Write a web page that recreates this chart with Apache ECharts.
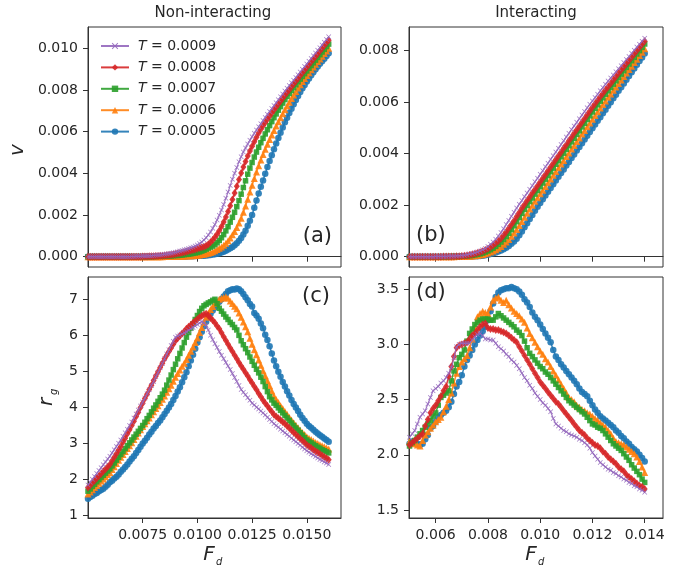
<!DOCTYPE html>
<html><head><meta charset="utf-8">
<script src="https://cdn.jsdelivr.net/npm/echarts/dist/echarts.min.js"></script>
<style>html,body{margin:0;padding:0;background:#fff}#c{width:691px;height:572px}</style>
</head><body><div id="c"></div>
<script>
// ---------- DATA ----------
const T_LABELS = ['T = 0.0009','T = 0.0008','T = 0.0007','T = 0.0006','T = 0.0005'];
const X_TICKS_NONINT = [0.0075,0.0100,0.0125,0.0150];
const X_TICKS_INT = [0.006,0.008,0.010,0.012,0.014];
const Y_TICKS_V_NONINT = [0,0.002,0.004,0.006,0.008,0.010];
const Y_TICKS_V_INT = [0,0.002,0.004,0.006,0.008];
const Y_TICKS_R_NONINT = [1,2,3,4,5,6,7];
const Y_TICKS_R_INT = [1.5,2.0,2.5,3.0,3.5];

const F_NONINT = [
0.0050,0.0051,0.0052,0.0053,0.0054,0.0055,0.0056,0.0057,0.0058,0.0059,
0.0060,0.0061,0.0062,0.0063,0.0064,0.0065,0.0066,0.0067,0.0068,0.0069,
0.0070,0.0071,0.0072,0.0073,0.0074,0.0075,0.0076,0.0077,0.0078,0.0079,
0.0080,0.0081,0.0082,0.0083,0.0084,0.0085,0.0086,0.0087,0.0088,0.0089,
0.0090,0.0091,0.0092,0.0093,0.0094,0.0095,0.0096,0.0097,0.0098,0.0099,
0.0100,0.0101,0.0102,0.0103,0.0104,0.0105,0.0106,0.0107,0.0108,0.0109,
0.0110,0.0111,0.0112,0.0113,0.0114,0.0115,0.0116,0.0117,0.0118,0.0119,
0.0120,0.0121,0.0122,0.0123,0.0124,0.0125,0.0126,0.0127,0.0128,0.0129,
0.0130,0.0131,0.0132,0.0133,0.0134,0.0135,0.0136,0.0137,0.0138,0.0139,
0.0140,0.0141,0.0142,0.0143,0.0144,0.0145,0.0146,0.0147,0.0148,0.0149,
0.0150,0.0151,0.0152,0.0153,0.0154,0.0155,0.0156,0.0157,0.0158,0.0159,0.0160];

const F_INT = [
0.0050,0.0051,0.0052,0.0053,0.0054,0.0055,0.0056,0.0057,0.0058,0.0059,
0.0060,0.0061,0.0062,0.0063,0.0064,0.0065,0.0066,0.0067,0.0068,0.0069,
0.0070,0.0071,0.0072,0.0073,0.0074,0.0075,0.0076,0.0077,0.0078,0.0079,
0.0080,0.0081,0.0082,0.0083,0.0084,0.0085,0.0086,0.0087,0.0088,0.0089,
0.0090,0.0091,0.0092,0.0093,0.0094,0.0095,0.0096,0.0097,0.0098,0.0099,
0.0100,0.0101,0.0102,0.0103,0.0104,0.0105,0.0106,0.0107,0.0108,0.0109,
0.0110,0.0111,0.0112,0.0113,0.0114,0.0115,0.0116,0.0117,0.0118,0.0119,
0.0120,0.0121,0.0122,0.0123,0.0124,0.0125,0.0126,0.0127,0.0128,0.0129,
0.0130,0.0131,0.0132,0.0133,0.0134,0.0135,0.0136,0.0137,0.0138,0.0139,0.0140];

// (a) v, non-interacting
const V_NONINT_T9 = [
0,0,0,0,0,0,0,0,0,0,
0,0,0,0,0,0,0,0,0,0,
0.00001,0.00001,0.00002,0.00002,0.00002,0.00003,0.00003,0.00004,0.00004,0.00005,
0.00006,0.00007,0.00008,0.00009,0.00010,0.00012,0.00013,0.00015,0.00017,0.00019,
0.00021,0.00024,0.00027,0.00030,0.00033,0.00036,0.00039,0.00043,0.00047,0.00051,
0.00056,0.00063,0.00071,0.00080,0.00091,0.00104,0.00119,0.00136,0.00155,0.00176,
0.00199,0.00224,0.00251,0.00280,0.00310,0.00341,0.00372,0.00400,0.00428,0.00455,
0.00480,0.00502,0.00522,0.00541,0.00559,0.00576,0.00592,0.00608,0.00623,0.00638,
0.00653,0.00668,0.00683,0.00697,0.00711,0.00725,0.00739,0.00753,0.00767,0.00781,
0.00795,0.00808,0.00821,0.00834,0.00847,0.00860,0.00873,0.00886,0.00899,0.00912,
0.00925,0.00938,0.00951,0.00964,0.00977,0.00990,0.01003,0.01016,0.01029,0.01042,0.01055];
const V_NONINT_T8 = [
0,0,0,0,0,0,0,0,0,0,
0,0,0,0,0,0,0,0,0,0,
0,0,0,0,0,0.00001,0.00001,0.00001,0.00002,0.00002,
0.00002,0.00003,0.00003,0.00004,0.00005,0.00006,0.00007,0.00008,0.00009,0.00011,
0.00013,0.00015,0.00017,0.00019,0.00021,0.00024,0.00027,0.00030,0.00032,0.00035,
0.00038,0.00042,0.00045,0.00048,0.00053,0.00060,0.00069,0.00080,0.00093,0.00108,
0.00125,0.00145,0.00167,0.00191,0.00217,0.00245,0.00275,0.00306,0.00338,0.00370,
0.00401,0.00430,0.00457,0.00483,0.00507,0.00530,0.00552,0.00573,0.00594,0.00611,
0.00628,0.00644,0.00659,0.00674,0.00689,0.00704,0.00718,0.00732,0.00746,0.00760,
0.00774,0.00788,0.00801,0.00815,0.00828,0.00842,0.00855,0.00869,0.00882,0.00896,
0.00909,0.00922,0.00935,0.00948,0.00961,0.00974,0.00987,0.01000,0.01013,0.01026,0.01039];
const V_NONINT_T7 = [
0,0,0,0,0,0,0,0,0,0,
0,0,0,0,0,0,0,0,0,0,
0,0,0,0,0,0,0,0,0,0,
0.00001,0.00001,0.00002,0.00002,0.00002,0.00003,0.00003,0.00004,0.00004,0.00005,
0.00006,0.00006,0.00007,0.00008,0.00010,0.00011,0.00012,0.00014,0.00016,0.00018,
0.00020,0.00023,0.00027,0.00031,0.00036,0.00041,0.00046,0.00051,0.00058,0.00067,
0.00078,0.00091,0.00106,0.00124,0.00144,0.00166,0.00189,0.00213,0.00240,0.00269,
0.00300,0.00332,0.00364,0.00396,0.00425,0.00452,0.00478,0.00502,0.00525,0.00547,
0.00568,0.00589,0.00609,0.00629,0.00648,0.00667,0.00685,0.00703,0.00720,0.00737,
0.00754,0.00769,0.00783,0.00797,0.00811,0.00825,0.00839,0.00852,0.00865,0.00878,
0.00891,0.00904,0.00917,0.00930,0.00943,0.00956,0.00969,0.00982,0.00995,0.01008,0.01020];
const V_NONINT_T6 = [
0,0,0,0,0,0,0,0,0,0,
0,0,0,0,0,0,0,0,0,0,
0,0,0,0,0,0,0,0,0,0,
0,0,0,0,0,0.00001,0.00001,0.00001,0.00001,0.00001,
0.00001,0.00002,0.00002,0.00002,0.00003,0.00003,0.00004,0.00004,0.00005,0.00006,
0.00007,0.00008,0.00010,0.00012,0.00014,0.00017,0.00020,0.00024,0.00029,0.00035,
0.00041,0.00047,0.00055,0.00065,0.00077,0.00090,0.00105,0.00121,0.00140,0.00162,
0.00185,0.00213,0.00243,0.00276,0.00310,0.00343,0.00375,0.00406,0.00436,0.00464,
0.00490,0.00515,0.00539,0.00562,0.00584,0.00606,0.00627,0.00647,0.00667,0.00686,
0.00705,0.00723,0.00741,0.00759,0.00776,0.00793,0.00809,0.00825,0.00840,0.00855,
0.00869,0.00883,0.00897,0.00910,0.00923,0.00936,0.00949,0.00962,0.00975,0.00987,0.01000];
const V_NONINT_T5 = [
0,0,0,0,0,0,0,0,0,0,
0,0,0,0,0,0,0,0,0,0,
0,0,0,0,0,0,0,0,0,0,
0,0,0,0,0,0,0,0,0,0,
0,0,0.00001,0.00001,0.00001,0.00001,0.00002,0.00002,0.00002,0.00003,
0.00003,0.00004,0.00004,0.00005,0.00006,0.00007,0.00008,0.00010,0.00012,0.00014,
0.00016,0.00020,0.00024,0.00028,0.00034,0.00040,0.00047,0.00055,0.00065,0.00077,
0.00090,0.00107,0.00125,0.00148,0.00173,0.00200,0.00235,0.00270,0.00303,0.00335,
0.00365,0.00398,0.00430,0.00459,0.00487,0.00515,0.00543,0.00569,0.00595,0.00620,
0.00645,0.00667,0.00689,0.00710,0.00731,0.00752,0.00771,0.00790,0.00808,0.00824,
0.00840,0.00855,0.00870,0.00885,0.00899,0.00913,0.00926,0.00938,0.00950,0.00963,0.00976];

// (b) v, interacting
const V_INT_T9 = [
0,0,0,0,0,0,0,0,0,0,
0.00001,0.00001,0.00001,0.00001,0.00001,0.00002,0.00002,0.00002,0.00003,0.00004,
0.00005,0.00006,0.00008,0.00010,0.00012,0.00015,0.00018,0.00022,0.00027,0.00032,
0.00040,0.00048,0.00057,0.00068,0.00080,0.00094,0.00109,0.00125,0.00141,0.00157,
0.00173,0.00189,0.00204,0.00218,0.00233,0.00247,0.00262,0.00276,0.00291,0.00305,
0.00320,0.00334,0.00349,0.00363,0.00378,0.00392,0.00407,0.00421,0.00436,0.00450,
0.00465,0.00479,0.00494,0.00508,0.00522,0.00536,0.00550,0.00564,0.00578,0.00592,
0.00605,0.00618,0.00631,0.00644,0.00657,0.00670,0.00682,0.00694,0.00706,0.00718,
0.00730,0.00742,0.00754,0.00766,0.00777,0.00790,0.00802,0.00814,0.00825,0.00837,0.00848];
const V_INT_T8 = [
0,0,0,0,0,0,0,0,0,0,
0,0,0,0.00001,0.00001,0.00001,0.00001,0.00001,0.00002,0.00002,
0.00003,0.00004,0.00005,0.00007,0.00009,0.00011,0.00014,0.00017,0.00021,0.00026,
0.00031,0.00037,0.00044,0.00052,0.00061,0.00071,0.00083,0.00096,0.00110,0.00125,
0.00140,0.00156,0.00172,0.00188,0.00203,0.00218,0.00232,0.00247,0.00261,0.00276,
0.00290,0.00305,0.00319,0.00334,0.00348,0.00363,0.00377,0.00392,0.00406,0.00421,
0.00435,0.00450,0.00464,0.00479,0.00493,0.00508,0.00522,0.00537,0.00551,0.00566,
0.00580,0.00594,0.00608,0.00621,0.00634,0.00647,0.00660,0.00673,0.00686,0.00699,
0.00712,0.00725,0.00737,0.00750,0.00762,0.00775,0.00787,0.00800,0.00812,0.00825,0.00837];
const V_INT_T7 = [
0,0,0,0,0,0,0,0,0,0,
0,0,0,0,0,0,0.00001,0.00001,0.00001,0.00001,
0.00002,0.00002,0.00003,0.00004,0.00005,0.00007,0.00009,0.00011,0.00014,0.00018,
0.00022,0.00027,0.00033,0.00040,0.00048,0.00057,0.00067,0.00078,0.00091,0.00105,
0.00120,0.00136,0.00152,0.00168,0.00184,0.00199,0.00214,0.00228,0.00243,0.00257,
0.00272,0.00286,0.00301,0.00315,0.00330,0.00344,0.00359,0.00373,0.00388,0.00402,
0.00417,0.00431,0.00446,0.00460,0.00475,0.00489,0.00504,0.00518,0.00533,0.00547,
0.00562,0.00576,0.00590,0.00604,0.00617,0.00631,0.00644,0.00657,0.00670,0.00683,
0.00696,0.00709,0.00722,0.00735,0.00748,0.00761,0.00774,0.00787,0.00800,0.00813,0.00826];
const V_INT_T6 = [
0,0,0,0,0,0,0,0,0,0,
0,0,0,0,0,0,0,0,0.00001,0.00001,
0.00001,0.00001,0.00002,0.00002,0.00003,0.00004,0.00005,0.00007,0.00009,0.00011,
0.00014,0.00018,0.00022,0.00027,0.00033,0.00040,0.00048,0.00057,0.00067,0.00079,
0.00092,0.00106,0.00121,0.00137,0.00153,0.00169,0.00185,0.00200,0.00215,0.00229,
0.00244,0.00258,0.00273,0.00287,0.00302,0.00316,0.00331,0.00345,0.00360,0.00374,
0.00389,0.00403,0.00418,0.00432,0.00447,0.00461,0.00476,0.00490,0.00505,0.00519,
0.00534,0.00548,0.00563,0.00577,0.00591,0.00605,0.00619,0.00632,0.00646,0.00659,
0.00673,0.00686,0.00700,0.00713,0.00727,0.00740,0.00754,0.00767,0.00781,0.00794,0.00808];
const V_INT_T5 = [
0,0,0,0,0,0,0,0,0,0,
0,0,0,0,0,0,0,0,0,0,
0.00001,0.00001,0.00001,0.00001,0.00001,0.00002,0.00002,0.00003,0.00004,0.00006,
0.00008,0.00010,0.00013,0.00016,0.00020,0.00024,0.00029,0.00035,0.00042,0.00050,
0.00059,0.00070,0.00083,0.00098,0.00114,0.00130,0.00146,0.00162,0.00178,0.00194,
0.00209,0.00223,0.00238,0.00252,0.00267,0.00281,0.00296,0.00310,0.00325,0.00339,
0.00354,0.00368,0.00383,0.00397,0.00412,0.00426,0.00441,0.00455,0.00470,0.00484,
0.00499,0.00513,0.00528,0.00542,0.00557,0.00571,0.00586,0.00600,0.00615,0.00629,
0.00644,0.00658,0.00673,0.00687,0.00702,0.00716,0.00731,0.00745,0.00760,0.00774,0.00789];

// (c) r_g, non-interacting
const R_NONINT_T9 = [
1.85,1.93,2.01,2.09,2.17,2.25,2.33,2.41,2.49,2.57,
2.65,2.74,2.83,2.92,3.01,3.10,3.20,3.30,3.40,3.50,
3.60,3.71,3.82,3.93,4.04,4.15,4.26,4.38,4.49,4.61,
4.72,4.85,4.97,5.10,5.22,5.35,5.48,5.60,5.72,5.84,
5.95,5.98,6.01,6.04,6.07,6.10,6.14,6.18,6.22,6.26,
6.30,6.34,6.38,6.35,6.28,6.15,6.00,5.88,5.77,5.66,
5.55,5.45,5.35,5.25,5.15,5.05,4.94,4.83,4.72,4.61,
4.50,4.42,4.35,4.27,4.20,4.12,4.07,4.01,3.96,3.90,
3.85,3.79,3.73,3.67,3.61,3.55,3.50,3.45,3.40,3.35,
3.30,3.25,3.20,3.15,3.10,3.05,3.00,2.95,2.90,2.85,
2.80,2.76,2.72,2.68,2.64,2.60,2.56,2.53,2.49,2.46,2.42];
const R_NONINT_T8 = [
1.78,1.84,1.91,1.97,2.04,2.10,2.16,2.23,2.29,2.36,
2.42,2.52,2.62,2.72,2.82,2.92,3.04,3.15,3.27,3.38,
3.50,3.62,3.75,3.87,4.00,4.12,4.25,4.37,4.50,4.62,
4.75,4.87,4.99,5.11,5.23,5.35,5.45,5.55,5.65,5.75,
5.85,5.92,5.98,6.05,6.11,6.18,6.24,6.29,6.35,6.40,
6.45,6.50,6.54,6.58,6.60,6.55,6.48,6.42,6.35,6.26,
6.18,6.07,5.96,5.86,5.75,5.65,5.55,5.45,5.35,5.25,
5.15,5.06,4.96,4.87,4.77,4.68,4.58,4.49,4.39,4.30,
4.20,4.12,4.04,3.96,3.88,3.80,3.75,3.70,3.65,3.60,
3.55,3.49,3.43,3.37,3.31,3.25,3.19,3.13,3.08,3.02,
2.96,2.92,2.88,2.83,2.79,2.75,2.71,2.67,2.63,2.59,2.55];
const R_NONINT_T7 = [
1.68,1.74,1.81,1.87,1.94,2.00,2.06,2.12,2.18,2.24,
2.30,2.38,2.46,2.54,2.62,2.70,2.78,2.86,2.94,3.02,
3.10,3.18,3.26,3.34,3.42,3.50,3.59,3.69,3.78,3.88,
3.98,4.07,4.17,4.27,4.37,4.48,4.62,4.76,4.90,5.05,
5.20,5.35,5.50,5.65,5.80,5.95,6.08,6.20,6.32,6.44,
6.55,6.66,6.75,6.82,6.86,6.90,6.93,6.97,7.00,6.88,
6.75,6.67,6.59,6.51,6.44,6.36,6.30,6.22,6.15,6.00,
5.85,5.74,5.63,5.52,5.40,5.28,5.17,5.06,4.96,4.84,
4.72,4.58,4.44,4.30,4.21,4.12,4.06,3.99,3.92,3.85,
3.78,3.71,3.64,3.57,3.50,3.43,3.37,3.30,3.23,3.16,
3.10,3.06,3.02,2.98,2.94,2.90,2.87,2.83,2.80,2.77,2.74];
const R_NONINT_T6 = [
1.60,1.66,1.72,1.78,1.84,1.90,1.96,2.02,2.08,2.14,
2.20,2.28,2.36,2.45,2.54,2.62,2.70,2.78,2.86,2.94,
3.02,3.11,3.20,3.29,3.38,3.47,3.55,3.63,3.71,3.80,
3.88,3.97,4.05,4.14,4.23,4.32,4.42,4.52,4.62,4.73,
4.84,4.94,5.04,5.14,5.23,5.33,5.45,5.56,5.68,5.80,
5.93,6.08,6.22,6.36,6.50,6.62,6.72,6.80,6.88,6.95,
7.00,7.03,7.05,7.07,7.03,6.95,6.88,6.81,6.74,6.62,
6.50,6.37,6.24,6.10,5.92,5.75,5.60,5.46,5.32,5.17,
5.02,4.88,4.74,4.60,4.46,4.32,4.22,4.14,4.05,3.97,
3.89,3.81,3.73,3.65,3.58,3.51,3.44,3.37,3.31,3.25,
3.19,3.15,3.11,3.07,3.03,3.00,2.97,2.94,2.91,2.88,2.85];
const R_NONINT_T5 = [
1.47,1.52,1.55,1.60,1.63,1.68,1.71,1.75,1.80,1.86,
1.93,1.97,2.03,2.08,2.14,2.22,2.28,2.35,2.42,2.50,
2.58,2.65,2.74,2.82,2.91,3.00,3.08,3.16,3.25,3.33,
3.42,3.49,3.57,3.64,3.73,3.82,3.91,4.00,4.10,4.21,
4.32,4.44,4.56,4.70,4.84,4.98,5.14,5.30,5.46,5.63,
5.80,5.95,6.10,6.25,6.38,6.50,6.60,6.69,6.78,6.86,
6.93,7.00,7.08,7.15,7.22,7.25,7.28,7.27,7.30,7.28,
7.22,7.15,7.06,6.97,6.87,6.80,6.62,6.55,6.46,6.33,
6.20,6.02,5.87,5.70,5.50,5.30,5.14,4.99,4.85,4.71,
4.58,4.45,4.33,4.21,4.10,4.00,3.90,3.80,3.71,3.63,
3.55,3.49,3.44,3.38,3.33,3.28,3.23,3.19,3.14,3.10,3.05];

// (d) r_g, interacting
const R_INT_T9 = [
2.16,2.19,2.22,2.28,2.34,2.37,2.40,2.46,2.52,2.58,
2.60,2.62,2.65,2.67,2.70,2.74,2.79,2.88,2.98,3.00,
3.01,3.01,3.01,3.01,3.04,3.07,3.09,3.10,3.08,3.05,
3.05,3.04,3.04,3.01,2.98,2.96,2.94,2.91,2.89,2.86,
2.84,2.81,2.78,2.74,2.70,2.67,2.63,2.60,2.56,2.53,
2.50,2.47,2.45,2.42,2.39,2.33,2.28,2.26,2.24,2.22,
2.21,2.19,2.18,2.17,2.16,2.14,2.13,2.11,2.09,2.06,
2.02,1.99,1.96,1.93,1.91,1.89,1.87,1.86,1.84,1.83,
1.81,1.80,1.78,1.77,1.75,1.74,1.72,1.71,1.69,1.68,1.66];
const R_INT_T8 = [
2.09,2.11,2.13,2.15,2.17,2.19,2.26,2.32,2.38,2.42,
2.45,2.49,2.53,2.58,2.62,2.71,2.80,2.89,2.97,2.99,
3.00,3.01,3.02,3.05,3.08,3.10,3.13,3.16,3.18,3.19,
3.15,3.14,3.14,3.13,3.13,3.12,3.11,3.10,3.08,3.06,
3.04,3.02,2.98,2.94,2.90,2.86,2.82,2.78,2.74,2.70,
2.66,2.63,2.60,2.57,2.54,2.51,2.48,2.46,2.43,2.40,
2.37,2.34,2.31,2.28,2.25,2.22,2.20,2.18,2.15,2.13,
2.11,2.09,2.08,2.06,2.03,2.01,1.98,1.96,1.94,1.92,
1.89,1.87,1.85,1.82,1.80,1.78,1.76,1.74,1.72,1.71,1.69];
const R_INT_T7 = [
2.08,2.11,2.13,2.16,2.19,2.22,2.25,2.28,2.31,2.35,
2.38,2.45,2.52,2.54,2.56,2.58,2.67,2.76,2.82,2.88,
2.91,2.95,3.03,3.10,3.14,3.18,3.20,3.22,3.23,3.23,
3.23,3.22,3.22,3.25,3.28,3.26,3.24,3.22,3.20,3.18,
3.16,3.13,3.11,3.08,3.03,2.97,2.92,2.89,2.86,2.83,
2.80,2.78,2.75,2.73,2.70,2.67,2.64,2.61,2.58,2.55,
2.52,2.49,2.47,2.45,2.43,2.41,2.39,2.37,2.34,2.31,
2.28,2.27,2.25,2.24,2.22,2.19,2.16,2.13,2.10,2.08,
2.06,2.04,2.01,1.98,1.95,1.91,1.88,1.85,1.82,1.78,1.75];
const R_INT_T6 = [
2.12,2.11,2.10,2.09,2.08,2.13,2.18,2.21,2.24,2.27,
2.30,2.32,2.34,2.39,2.44,2.50,2.56,2.65,2.74,2.80,
2.84,2.87,2.90,2.97,3.05,3.15,3.25,3.28,3.30,3.29,
3.28,3.34,3.40,3.42,3.43,3.40,3.38,3.40,3.36,3.33,
3.30,3.28,3.26,3.23,3.20,3.15,3.10,3.06,3.02,2.98,
2.94,2.91,2.87,2.84,2.80,2.76,2.72,2.68,2.64,2.60,
2.56,2.52,2.50,2.48,2.45,2.43,2.41,2.40,2.38,2.37,
2.35,2.33,2.31,2.29,2.27,2.25,2.22,2.19,2.15,2.12,
2.11,2.10,2.09,2.07,2.05,2.03,2.01,1.98,1.94,1.89,1.84];
const R_INT_T5 = [
2.10,2.12,2.12,2.10,2.09,2.10,2.14,2.18,2.24,2.26,
2.30,2.34,2.36,2.38,2.40,2.43,2.48,2.55,2.62,2.66,
2.72,2.80,2.86,2.90,2.95,3.00,3.04,3.08,3.12,3.16,
3.22,3.30,3.37,3.43,3.47,3.49,3.50,3.51,3.51,3.52,
3.51,3.50,3.48,3.45,3.41,3.38,3.34,3.29,3.25,3.22,
3.18,3.14,3.10,3.06,3.02,2.95,2.89,2.86,2.82,2.79,
2.76,2.73,2.70,2.67,2.64,2.60,2.57,2.55,2.53,2.49,
2.45,2.41,2.38,2.35,2.33,2.31,2.29,2.27,2.25,2.22,
2.20,2.17,2.15,2.12,2.10,2.07,2.05,2.03,2.00,1.97,1.94];

// ---------- STYLE ----------
const FONT = 'DejaVu Sans';
const TXT = '#262626';
const FRAME = '#333';
const X_PATH = 'path://M1,0L5,4L9,0L10,1L6,5L10,9L9,10L5,6L1,10L0,9L4,5L0,1Z';
const STY = {
  'T = 0.0009': {color:'#9467bd', symbol:X_PATH, size:5, lw:1.2},
  'T = 0.0008': {color:'#d62728', symbol:'diamond', size:[6,8], lw:1.5},
  'T = 0.0007': {color:'#2ca02c', symbol:'rect', size:5.5, lw:1.5},
  'T = 0.0006': {color:'#ff7f0e', symbol:'triangle', size:7, lw:1.5},
  'T = 0.0005': {color:'#1f77b4', symbol:'circle', size:6.5, lw:1.5}
};

function mk(name, idx, xs, ys, z) {
  const s = STY[name];
  return {
    name, type:'line', xAxisIndex:idx, yAxisIndex:idx,
    data: xs.map((x,i)=>[x, ys[i]]),
    symbol:s.symbol, symbolSize:s.size, showSymbol:true,
    lineStyle:{color:s.color, width:s.lw, opacity:0.9},
    itemStyle:{color:s.color, opacity:0.9},
    z: z, animation:false, silent:true
  };
}
function axX(gi, min, max, ticks, show, dec) {
  return {gridIndex:gi, type:'value', min, max,
    axisLine:{show:true, lineStyle:{color:FRAME, width:1}},
    splitLine:{show:false},
    axisTick:{show:true, length:5, customValues:ticks, lineStyle:{color:FRAME}},
    axisLabel:{show:show, customValues:ticks, formatter:v=>Number(v).toFixed(dec), margin:10, fontSize:14, color:TXT, fontFamily:FONT}};
}
function axY(gi, min, max, ticks, dec) {
  return {gridIndex:gi, type:'value', min, max,
    axisLine:{show:true, lineStyle:{color:FRAME, width:1}},
    splitLine:{show:false},
    axisTick:{show:true, length:5, customValues:ticks, lineStyle:{color:FRAME}},
    axisLabel:{show:true, customValues:ticks, formatter:v=>Number(v).toFixed(dec), margin:10, fontSize:14, color:TXT, fontFamily:FONT}};
}
const gridBase = {show:true, borderColor:FRAME, borderWidth:1, containLabel:false, outerBoundsMode:'none'};

const series = [];
const pairs = [
  [0, F_NONINT, [V_NONINT_T5,V_NONINT_T6,V_NONINT_T7,V_NONINT_T8,V_NONINT_T9]],
  [1, F_INT, [V_INT_T5,V_INT_T6,V_INT_T7,V_INT_T8,V_INT_T9]],
  [2, F_NONINT, [R_NONINT_T5,R_NONINT_T6,R_NONINT_T7,R_NONINT_T8,R_NONINT_T9]],
  [3, F_INT, [R_INT_T5,R_INT_T6,R_INT_T7,R_INT_T8,R_INT_T9]]
];
const order = ['T = 0.0005','T = 0.0006','T = 0.0007','T = 0.0008','T = 0.0009'];
pairs.forEach(([idx, xs, arrs]) => {
  arrs.forEach((ys, k) => series.push(mk(order[k], idx, xs, ys, 2 + k)));
});

function txt(x, y, text, size, align, opts) {
  return Object.assign({type:'text', x, y, style:{text, fontSize:size, fontFamily:FONT, fill:TXT, align:align, verticalAlign:'middle'}}, opts||{});
}
function sub(x, y, main, subs, rot) {
  return {type:'group', x, y, rotation:rot||0, children:[
    {type:'text', x:0, y:0, style:{text:main, fontSize:20, fontStyle:'italic', fontFamily:FONT, fill:TXT, align:'center', verticalAlign:'middle'}},
    {type:'text', x:7, y:7, style:{text:subs, fontSize:10, fontStyle:'italic', fontFamily:FONT, fill:TXT, align:'left', verticalAlign:'middle'}}
  ]};
}

const option = {
  backgroundColor:'#fff',
  animation:false,
  grid:[
    Object.assign({left:88, top:27, width:253, height:240}, gridBase),
    Object.assign({left:409, top:27, width:254, height:240}, gridBase),
    Object.assign({left:88, top:277, width:253, height:241}, gridBase),
    Object.assign({left:409, top:277, width:254, height:241}, gridBase)
  ],
  xAxis:[
    axX(0, 0.005, 0.016563, X_TICKS_NONINT, false, 4),
    axX(1, 0.00498, 0.0147, X_TICKS_INT, false, 3),
    axX(2, 0.005, 0.016563, X_TICKS_NONINT, true, 4),
    axX(3, 0.00498, 0.0147, X_TICKS_INT, true, 3)
  ],
  yAxis:[
    axY(0, -0.000494, 0.01102, Y_TICKS_V_NONINT, 3),
    axY(1, -0.0004, 0.00892, Y_TICKS_V_INT, 3),
    axY(2, 0.936, 7.618, Y_TICKS_R_NONINT, 0),
    axY(3, 1.4275, 3.611, Y_TICKS_R_INT, 1)
  ],
  legend:{
    data:T_LABELS, orient:'vertical', left:100, top:39, padding:0,
    itemWidth:28, itemHeight:8, itemGap:7.4,
    selectedMode:false,
    formatter: n => n.replace('T', '{i|T}'),
    textStyle:{fontFamily:FONT, fontSize:14, color:TXT, lineHeight:14, padding:[0,0,0,4],
      rich:{i:{fontStyle:'italic', fontFamily:FONT, fontSize:14, color:TXT}}}
  },
  graphic:[
    txt(213, 13, 'Non-interacting', 15, 'center'),
    txt(536, 13, 'Interacting', 15, 'center'),
    txt(332, 237, '(a)', 21, 'right'),
    txt(416, 236, '(b)', 21, 'left'),
    txt(330, 297, '(c)', 21, 'right'),
    txt(416, 293, '(d)', 21, 'left'),
    {type:'text', x:18, y:150, rotation:Math.PI/2, style:{text:'v', fontSize:20, fontStyle:'italic', fontFamily:FONT, fill:TXT, align:'center', verticalAlign:'middle'}},
    sub(47, 402, 'r', 'g', Math.PI/2),
    sub(209, 555, 'F', 'd', 0),
    sub(531, 555, 'F', 'd', 0)
  ],
  series
};
const chart = echarts.init(document.getElementById('c'), null, {renderer:'canvas'});
chart.setOption(option);
</script></body></html>
